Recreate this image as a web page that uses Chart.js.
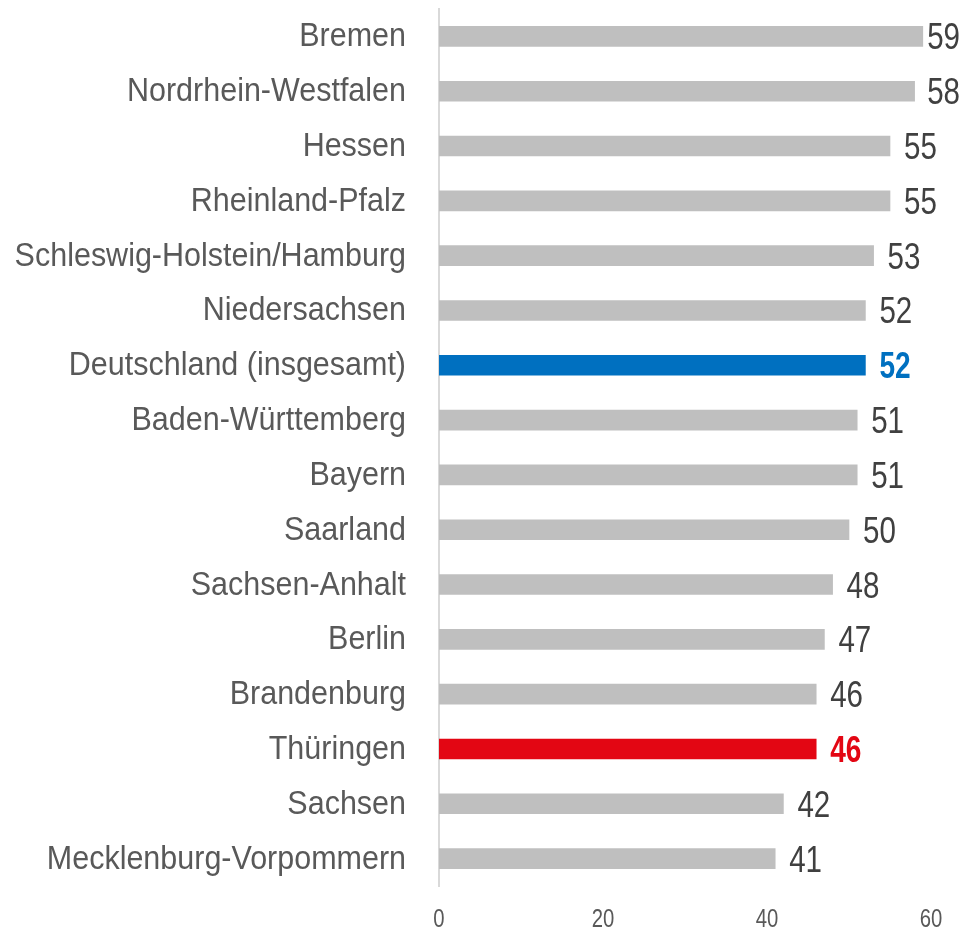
<!DOCTYPE html>
<html>
<head>
<meta charset="utf-8">
<script src="https://cdn.jsdelivr.net/npm/chart.js@4/dist/chart.umd.min.js"></script>
<style>
html,body{margin:0;padding:0;background:#fff;}
#wrap{position:relative;width:962px;height:929px;}
</style>
</head>
<body>
<div id="wrap"><canvas id="c" width="962" height="929"></canvas></div>
<script>
const categories = ["Bremen","Nordrhein-Westfalen","Hessen","Rheinland-Pfalz","Schleswig-Holstein/Hamburg","Niedersachsen","Deutschland (insgesamt)","Baden-Württemberg","Bayern","Saarland","Sachsen-Anhalt","Berlin","Brandenburg","Thüringen","Sachsen","Mecklenburg-Vorpommern"];
const values = [59,58,55,55,53,52,52,51,51,50,48,47,46,46,42,41];
const xTicks = [0,20,40,60];
const highlight = { "Deutschland (insgesamt)": "#0070C0", "Thüringen": "#E30613" };

const FONT = "'Liberation Sans', Arial, sans-serif";
const GREY = "#BFBFBF";
const barColors = categories.map(c => highlight[c] || GREY);

// draw condensed text (narrow font look)
function drawText(ctx, text, x, y, size, sx, align, color, bold) {
  ctx.save();
  ctx.font = (bold ? 'bold ' : '') + size + 'px ' + FONT;
  ctx.fillStyle = color;
  ctx.textBaseline = 'alphabetic';
  ctx.textAlign = 'left';
  const w = ctx.measureText(text).width * sx;
  let left = x;
  if (align === 'right') left = x - w;
  else if (align === 'center') left = x - w / 2;
  ctx.translate(left, y);
  ctx.scale(sx, 1);
  ctx.fillText(text, 0, 0);
  ctx.restore();
  return w;
}
function textWidth(ctx, text, size, sx, bold) {
  ctx.save();
  ctx.font = (bold ? 'bold ' : '') + size + 'px ' + FONT;
  const w = ctx.measureText(text).width * sx;
  ctx.restore();
  return w;
}

const textPlugin = {
  id: 'textPlugin',
  afterDraw(chart) {
    const ctx = chart.ctx;
    const yScale = chart.scales.y;
    const xScale = chart.scales.x;
    // category labels
    categories.forEach((c, i) => {
      const y = yScale.getPixelForTick(i);
      drawText(ctx, c, yScale.right - 33, y + 10, 33.5, 0.91, 'right', '#595959', false);
    });
    // x tick labels
    xTicks.forEach(v => {
      const x = xScale.getPixelForValue(v);
      drawText(ctx, String(v), x, 927, 26, 0.78, 'center', '#595959', false);
    });
    // value labels
    const meta = chart.getDatasetMeta(0);
    meta.data.forEach((bar, i) => {
      const c = categories[i];
      const bold = !!highlight[c];
      const color = highlight[c] || '#404040';
      const t = String(values[i]);
      const size = 36, sx = bold ? 0.78 : 0.82;
      const w = textWidth(ctx, t, size, sx, bold);
      const x = Math.min(bar.x + 14, 960 - w);
      drawText(ctx, t, x, bar.y + 13, size, sx, 'left', color, bold);
    });
  }
};

new Chart(document.getElementById('c'), {
  type: 'bar',
  data: {
    labels: categories,
    datasets: [{
      data: values,
      backgroundColor: barColors,
      borderWidth: 0,
      barThickness: 20
    }]
  },
  options: {
    indexAxis: 'y',
    responsive: false,
    animation: false,
    layout: { padding: { top: 9, right: 31, left: 0, bottom: 0 } },
    plugins: { legend: { display: false }, tooltip: { enabled: false } },
    scales: {
      x: {
        min: 0, max: 60,
        afterBuildTicks(scale) { scale.ticks = xTicks.map(v => ({ value: v })); },
        grid: { display: false, drawTicks: false },
        border: { display: false },
        ticks: { display: false },
        afterFit(scale) { scale.height = 43; scale.paddingLeft = 0; scale.paddingRight = 0; }
      },
      y: {
        grid: { display: false, drawTicks: false },
        border: { display: true, color: '#D9D9D9', width: 2 },
        ticks: { display: false, autoSkip: false },
        afterFit(scale) { scale.width = 439; scale.paddingTop = 0; scale.paddingBottom = 0; }
      }
    }
  },
  plugins: [textPlugin]
});
</script>
</body>
</html>
